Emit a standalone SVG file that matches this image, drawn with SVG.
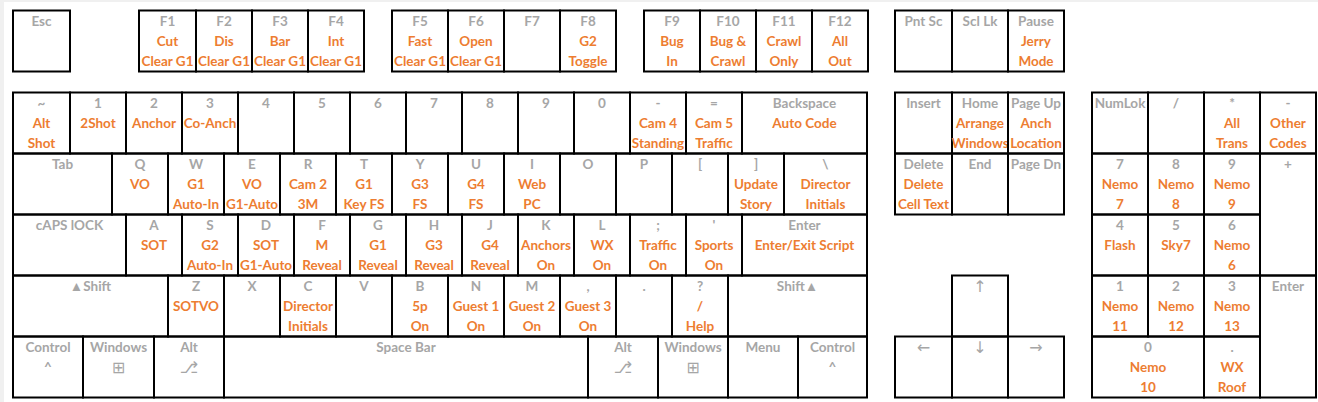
<svg xmlns="http://www.w3.org/2000/svg" width="1318" height="402" viewBox="0 0 1318 402">
<style>
.k{fill:none;stroke:#000;stroke-width:2}
text{font-family:Lato,"Liberation Sans",sans-serif;font-weight:bold;font-size:13.5px;text-anchor:middle}
.g{fill:#A6A6A6}
.o{fill:#ED7D31}
.s{font-family:"DejaVu Sans",sans-serif;font-weight:normal;font-size:16px}
</style>
<rect x="0" y="0" width="1318" height="402" fill="#fff"/>
<rect x="0" y="0" width="1318" height="2" fill="#F0F0F0"/>
<rect x="0" y="0" width="4" height="402" fill="#F0F0F0"/>

<!-- Top row -->
<g id="k-esc"><rect class="k" x="13" y="10.5" width="57" height="61"/><text class="g" x="41.5" y="26">Esc</text></g>
<g id="k-f1"><rect class="k" x="139" y="10.5" width="57" height="61"/><text class="g" x="167.5" y="26">F1</text><text class="o" x="167.5" y="46">Cut</text><text class="o" x="167.5" y="66">Clear G1</text></g>
<g id="k-f2"><rect class="k" x="196" y="10.5" width="56" height="61"/><text class="g" x="224" y="26">F2</text><text class="o" x="224" y="46">Dis</text><text class="o" x="224" y="66">Clear G1</text></g>
<g id="k-f3"><rect class="k" x="252" y="10.5" width="56" height="61"/><text class="g" x="280" y="26">F3</text><text class="o" x="280" y="46">Bar</text><text class="o" x="280" y="66">Clear G1</text></g>
<g id="k-f4"><rect class="k" x="308" y="10.5" width="56" height="61"/><text class="g" x="336" y="26">F4</text><text class="o" x="336" y="46">Int</text><text class="o" x="336" y="66">Clear G1</text></g>
<g id="k-f5"><rect class="k" x="392" y="10.5" width="56" height="61"/><text class="g" x="420" y="26">F5</text><text class="o" x="420" y="46">Fast</text><text class="o" x="420" y="66">Clear G1</text></g>
<g id="k-f6"><rect class="k" x="448" y="10.5" width="56" height="61"/><text class="g" x="476" y="26">F6</text><text class="o" x="476" y="46">Open</text><text class="o" x="476" y="66">Clear G1</text></g>
<g id="k-f7"><rect class="k" x="504" y="10.5" width="56" height="61"/><text class="g" x="532" y="26">F7</text></g>
<g id="k-f8"><rect class="k" x="560" y="10.5" width="56" height="61"/><text class="g" x="588" y="26">F8</text><text class="o" x="588" y="46">G2</text><text class="o" x="588" y="66">Toggle</text></g>
<g id="k-f9"><rect class="k" x="644" y="10.5" width="56" height="61"/><text class="g" x="672" y="26">F9</text><text class="o" x="672" y="46">Bug</text><text class="o" x="672" y="66">In</text></g>
<g id="k-f10"><rect class="k" x="700" y="10.5" width="56" height="61"/><text class="g" x="728" y="26">F10</text><text class="o" x="728" y="46">Bug &amp;</text><text class="o" x="728" y="66">Crawl</text></g>
<g id="k-f11"><rect class="k" x="756" y="10.5" width="56" height="61"/><text class="g" x="784" y="26">F11</text><text class="o" x="784" y="46">Crawl</text><text class="o" x="784" y="66">Only</text></g>
<g id="k-f12"><rect class="k" x="812" y="10.5" width="56" height="61"/><text class="g" x="840" y="26">F12</text><text class="o" x="840" y="46">All</text><text class="o" x="840" y="66">Out</text></g>
<g id="k-pntsc"><rect class="k" x="895" y="10.5" width="57" height="61"/><text class="g" x="923.5" y="26">Pnt Sc</text></g>
<g id="k-scllk"><rect class="k" x="952" y="10.5" width="56" height="61"/><text class="g" x="980" y="26">Scl Lk</text></g>
<g id="k-pause"><rect class="k" x="1008" y="10.5" width="56" height="61"/><text class="g" x="1036" y="26">Pause</text><text class="o" x="1036" y="46">Jerry</text><text class="o" x="1036" y="66">Mode</text></g>

<!-- Number row -->
<g id="k-tilde"><rect class="k" x="13" y="92.5" width="57" height="61"/><text class="g" x="41.5" y="108">~</text><text class="o" x="41.5" y="128">Alt</text><text class="o" x="41.5" y="148">Shot</text></g>
<g id="k-1"><rect class="k" x="70" y="92.5" width="56" height="61"/><text class="g" x="98" y="108">1</text><text class="o" x="98" y="128">2Shot</text></g>
<g id="k-2"><rect class="k" x="126" y="92.5" width="56" height="61"/><text class="g" x="154" y="108">2</text><text class="o" x="154" y="128">Anchor</text></g>
<g id="k-3"><rect class="k" x="182" y="92.5" width="56" height="61"/><text class="g" x="210" y="108">3</text><text class="o" x="210" y="128">Co-Anch</text></g>
<g id="k-4"><rect class="k" x="238" y="92.5" width="56" height="61"/><text class="g" x="266" y="108">4</text></g>
<g id="k-5"><rect class="k" x="294" y="92.5" width="56" height="61"/><text class="g" x="322" y="108">5</text></g>
<g id="k-6"><rect class="k" x="350" y="92.5" width="56" height="61"/><text class="g" x="378" y="108">6</text></g>
<g id="k-7"><rect class="k" x="406" y="92.5" width="56" height="61"/><text class="g" x="434" y="108">7</text></g>
<g id="k-8"><rect class="k" x="462" y="92.5" width="56" height="61"/><text class="g" x="490" y="108">8</text></g>
<g id="k-9"><rect class="k" x="518" y="92.5" width="56" height="61"/><text class="g" x="546" y="108">9</text></g>
<g id="k-0"><rect class="k" x="574" y="92.5" width="56" height="61"/><text class="g" x="602" y="108">0</text></g>
<g id="k-minus"><rect class="k" x="630" y="92.5" width="56" height="61"/><text class="g" x="658" y="108">-</text><text class="o" x="658" y="128">Cam 4</text><text class="o" x="658" y="148">Standing</text></g>
<g id="k-equal"><rect class="k" x="686" y="92.5" width="56" height="61"/><text class="g" x="714" y="108">=</text><text class="o" x="714" y="128">Cam 5</text><text class="o" x="714" y="148">Traffic</text></g>
<g id="k-backspace"><rect class="k" x="742" y="92.5" width="125" height="61"/><text class="g" x="804.5" y="108">Backspace</text><text class="o" x="804.5" y="128">Auto Code</text></g>
<g id="k-insert"><rect class="k" x="895" y="92.5" width="57" height="61"/><text class="g" x="923.5" y="108">Insert</text></g>
<g id="k-home"><rect class="k" x="952" y="92.5" width="56" height="61"/><text class="g" x="980" y="108">Home</text><text class="o" x="980" y="128">Arrange</text><text class="o" x="980" y="148">Windows</text></g>
<g id="k-pgup"><rect class="k" x="1008" y="92.5" width="56" height="61"/><text class="g" x="1036" y="108">Page Up</text><text class="o" x="1036" y="128">Anch</text><text class="o" x="1036" y="148">Location</text></g>
<g id="k-numlock"><rect class="k" x="1092" y="92.5" width="56" height="61"/><text class="g" x="1120" y="108">NumLok</text></g>
<g id="k-npdiv"><rect class="k" x="1148" y="92.5" width="56" height="61"/><text class="g" x="1176" y="108">/</text></g>
<g id="k-npmul"><rect class="k" x="1204" y="92.5" width="56" height="61"/><text class="g" x="1232" y="108">*</text><text class="o" x="1232" y="128">All</text><text class="o" x="1232" y="148">Trans</text></g>
<g id="k-npsub"><rect class="k" x="1260" y="92.5" width="56" height="61"/><text class="g" x="1288" y="108">-</text><text class="o" x="1288" y="128">Other</text><text class="o" x="1288" y="148">Codes</text></g>

<!-- Tab row -->
<g id="k-tab"><rect class="k" x="13" y="153.5" width="99" height="61"/><text class="g" x="62.5" y="169">Tab</text></g>
<g id="k-q"><rect class="k" x="112" y="153.5" width="56" height="61"/><text class="g" x="140" y="169">Q</text><text class="o" x="140" y="189">VO</text></g>
<g id="k-w"><rect class="k" x="168" y="153.5" width="56" height="61"/><text class="g" x="196" y="169">W</text><text class="o" x="196" y="189">G1</text><text class="o" x="196" y="209">Auto-In</text></g>
<g id="k-e"><rect class="k" x="224" y="153.5" width="56" height="61"/><text class="g" x="252" y="169">E</text><text class="o" x="252" y="189">VO</text><text class="o" x="252" y="209">G1-Auto</text></g>
<g id="k-r"><rect class="k" x="280" y="153.5" width="56" height="61"/><text class="g" x="308" y="169">R</text><text class="o" x="308" y="189">Cam 2</text><text class="o" x="308" y="209">3M</text></g>
<g id="k-t"><rect class="k" x="336" y="153.5" width="56" height="61"/><text class="g" x="364" y="169">T</text><text class="o" x="364" y="189">G1</text><text class="o" x="364" y="209">Key FS</text></g>
<g id="k-y"><rect class="k" x="392" y="153.5" width="56" height="61"/><text class="g" x="420" y="169">Y</text><text class="o" x="420" y="189">G3</text><text class="o" x="420" y="209">FS</text></g>
<g id="k-u"><rect class="k" x="448" y="153.5" width="56" height="61"/><text class="g" x="476" y="169">U</text><text class="o" x="476" y="189">G4</text><text class="o" x="476" y="209">FS</text></g>
<g id="k-i"><rect class="k" x="504" y="153.5" width="56" height="61"/><text class="g" x="532" y="169">I</text><text class="o" x="532" y="189">Web</text><text class="o" x="532" y="209">PC</text></g>
<g id="k-o"><rect class="k" x="560" y="153.5" width="56" height="61"/><text class="g" x="588" y="169">O</text></g>
<g id="k-p"><rect class="k" x="616" y="153.5" width="56" height="61"/><text class="g" x="644" y="169">P</text></g>
<g id="k-lbracket"><rect class="k" x="672" y="153.5" width="56" height="61"/><text class="g" x="700" y="169">[</text></g>
<g id="k-rbracket"><rect class="k" x="728" y="153.5" width="56" height="61"/><text class="g" x="756" y="169">]</text><text class="o" x="756" y="189">Update</text><text class="o" x="756" y="209">Story</text></g>
<g id="k-backslash"><rect class="k" x="784" y="153.5" width="83" height="61"/><text class="g" x="825.5" y="169">\</text><text class="o" x="825.5" y="189">Director</text><text class="o" x="825.5" y="209">Initials</text></g>
<g id="k-delete"><rect class="k" x="895" y="153.5" width="57" height="61"/><text class="g" x="923.5" y="169">Delete</text><text class="o" x="923.5" y="189">Delete</text><text class="o" x="923.5" y="209">Cell Text</text></g>
<g id="k-end"><rect class="k" x="952" y="153.5" width="56" height="61"/><text class="g" x="980" y="169">End</text></g>
<g id="k-pgdn"><rect class="k" x="1008" y="153.5" width="56" height="61"/><text class="g" x="1036" y="169">Page Dn</text></g>
<g id="k-np7"><rect class="k" x="1092" y="153.5" width="56" height="61"/><text class="g" x="1120" y="169">7</text><text class="o" x="1120" y="189">Nemo</text><text class="o" x="1120" y="209">7</text></g>
<g id="k-np8"><rect class="k" x="1148" y="153.5" width="56" height="61"/><text class="g" x="1176" y="169">8</text><text class="o" x="1176" y="189">Nemo</text><text class="o" x="1176" y="209">8</text></g>
<g id="k-np9"><rect class="k" x="1204" y="153.5" width="56" height="61"/><text class="g" x="1232" y="169">9</text><text class="o" x="1232" y="189">Nemo</text><text class="o" x="1232" y="209">9</text></g>
<g id="k-npadd"><rect class="k" x="1260" y="153.5" width="56" height="122"/><text class="g" x="1288" y="169">+</text></g>

<!-- Caps row -->
<g id="k-caps"><rect class="k" x="13" y="214.5" width="113" height="61"/><text class="g" x="69.5" y="230">cAPS lOCK</text></g>
<g id="k-a"><rect class="k" x="126" y="214.5" width="56" height="61"/><text class="g" x="154" y="230">A</text><text class="o" x="154" y="250">SOT</text></g>
<g id="k-s"><rect class="k" x="182" y="214.5" width="56" height="61"/><text class="g" x="210" y="230">S</text><text class="o" x="210" y="250">G2</text><text class="o" x="210" y="270">Auto-In</text></g>
<g id="k-d"><rect class="k" x="238" y="214.5" width="56" height="61"/><text class="g" x="266" y="230">D</text><text class="o" x="266" y="250">SOT</text><text class="o" x="266" y="270">G1-Auto</text></g>
<g id="k-f"><rect class="k" x="294" y="214.5" width="56" height="61"/><text class="g" x="322" y="230">F</text><text class="o" x="322" y="250">M</text><text class="o" x="322" y="270">Reveal</text></g>
<g id="k-g"><rect class="k" x="350" y="214.5" width="56" height="61"/><text class="g" x="378" y="230">G</text><text class="o" x="378" y="250">G1</text><text class="o" x="378" y="270">Reveal</text></g>
<g id="k-h"><rect class="k" x="406" y="214.5" width="56" height="61"/><text class="g" x="434" y="230">H</text><text class="o" x="434" y="250">G3</text><text class="o" x="434" y="270">Reveal</text></g>
<g id="k-j"><rect class="k" x="462" y="214.5" width="56" height="61"/><text class="g" x="490" y="230">J</text><text class="o" x="490" y="250">G4</text><text class="o" x="490" y="270">Reveal</text></g>
<g id="k-k"><rect class="k" x="518" y="214.5" width="56" height="61"/><text class="g" x="546" y="230">K</text><text class="o" x="546" y="250">Anchors</text><text class="o" x="546" y="270">On</text></g>
<g id="k-l"><rect class="k" x="574" y="214.5" width="56" height="61"/><text class="g" x="602" y="230">L</text><text class="o" x="602" y="250">WX</text><text class="o" x="602" y="270">On</text></g>
<g id="k-semicolon"><rect class="k" x="630" y="214.5" width="56" height="61"/><text class="g" x="658" y="230">;</text><text class="o" x="658" y="250">Traffic</text><text class="o" x="658" y="270">On</text></g>
<g id="k-quote"><rect class="k" x="686" y="214.5" width="56" height="61"/><text class="g" x="714" y="230">'</text><text class="o" x="714" y="250">Sports</text><text class="o" x="714" y="270">On</text></g>
<g id="k-enter"><rect class="k" x="742" y="214.5" width="125" height="61"/><text class="g" x="804.5" y="230">Enter</text><text class="o" x="804.5" y="250">Enter/Exit Script</text></g>
<g id="k-np4"><rect class="k" x="1092" y="214.5" width="56" height="61"/><text class="g" x="1120" y="230">4</text><text class="o" x="1120" y="250">Flash</text></g>
<g id="k-np5"><rect class="k" x="1148" y="214.5" width="56" height="61"/><text class="g" x="1176" y="230">5</text><text class="o" x="1176" y="250">Sky7</text></g>
<g id="k-np6"><rect class="k" x="1204" y="214.5" width="56" height="61"/><text class="g" x="1232" y="230">6</text><text class="o" x="1232" y="250">Nemo</text><text class="o" x="1232" y="270">6</text></g>

<!-- Shift row -->
<g id="k-lshift"><rect class="k" x="13" y="275.5" width="155" height="61"/><text class="g" x="90.5" y="291">▲Shift</text></g>
<g id="k-z"><rect class="k" x="168" y="275.5" width="56" height="61"/><text class="g" x="196" y="291">Z</text><text class="o" x="196" y="311">SOTVO</text></g>
<g id="k-x"><rect class="k" x="224" y="275.5" width="56" height="61"/><text class="g" x="252" y="291">X</text></g>
<g id="k-c"><rect class="k" x="280" y="275.5" width="56" height="61"/><text class="g" x="308" y="291">C</text><text class="o" x="308" y="311">Director</text><text class="o" x="308" y="331">Initials</text></g>
<g id="k-v"><rect class="k" x="336" y="275.5" width="56" height="61"/><text class="g" x="364" y="291">V</text></g>
<g id="k-b"><rect class="k" x="392" y="275.5" width="56" height="61"/><text class="g" x="420" y="291">B</text><text class="o" x="420" y="311">5p</text><text class="o" x="420" y="331">On</text></g>
<g id="k-n"><rect class="k" x="448" y="275.5" width="56" height="61"/><text class="g" x="476" y="291">N</text><text class="o" x="476" y="311">Guest 1</text><text class="o" x="476" y="331">On</text></g>
<g id="k-m"><rect class="k" x="504" y="275.5" width="56" height="61"/><text class="g" x="532" y="291">M</text><text class="o" x="532" y="311">Guest 2</text><text class="o" x="532" y="331">On</text></g>
<g id="k-comma"><rect class="k" x="560" y="275.5" width="56" height="61"/><text class="g" x="588" y="291">,</text><text class="o" x="588" y="311">Guest 3</text><text class="o" x="588" y="331">On</text></g>
<g id="k-period"><rect class="k" x="616" y="275.5" width="56" height="61"/><text class="g" x="644" y="291">.</text></g>
<g id="k-slash"><rect class="k" x="672" y="275.5" width="56" height="61"/><text class="g" x="700" y="291">?</text><text class="o" x="700" y="311">/</text><text class="o" x="700" y="331">Help</text></g>
<g id="k-rshift"><rect class="k" x="728" y="275.5" width="139" height="61"/><text class="g" x="797.5" y="291">Shift▲</text></g>
<g id="k-up"><rect class="k" x="952" y="275.5" width="56" height="61"/><text class="g s" x="980" y="292">↑</text></g>
<g id="k-np1"><rect class="k" x="1092" y="275.5" width="56" height="61"/><text class="g" x="1120" y="291">1</text><text class="o" x="1120" y="311">Nemo</text><text class="o" x="1120" y="331">11</text></g>
<g id="k-np2"><rect class="k" x="1148" y="275.5" width="56" height="61"/><text class="g" x="1176" y="291">2</text><text class="o" x="1176" y="311">Nemo</text><text class="o" x="1176" y="331">12</text></g>
<g id="k-np3"><rect class="k" x="1204" y="275.5" width="56" height="61"/><text class="g" x="1232" y="291">3</text><text class="o" x="1232" y="311">Nemo</text><text class="o" x="1232" y="331">13</text></g>
<g id="k-npenter"><rect class="k" x="1260" y="275.5" width="56" height="122"/><text class="g" x="1288" y="291">Enter</text></g>

<!-- Bottom row -->
<g id="k-lctrl"><rect class="k" x="13" y="336.5" width="70" height="61"/><text class="g" x="48" y="352">Control</text><text class="g" x="48" y="372">^</text></g>
<g id="k-lwin"><rect class="k" x="83" y="336.5" width="71" height="61"/><text class="g" x="118.5" y="352">Windows</text><text class="g s" x="118.5" y="373">⊞</text></g>
<g id="k-lalt"><rect class="k" x="154" y="336.5" width="70" height="61"/><text class="g" x="189" y="352">Alt</text><text class="g s" x="189" y="373">⎇</text></g>
<g id="k-space"><rect class="k" x="224" y="336.5" width="364" height="61"/><text class="g" x="406" y="352">Space Bar</text></g>
<g id="k-ralt"><rect class="k" x="588" y="336.5" width="70" height="61"/><text class="g" x="623" y="352">Alt</text><text class="g s" x="623" y="373">⎇</text></g>
<g id="k-rwin"><rect class="k" x="658" y="336.5" width="70" height="61"/><text class="g" x="693" y="352">Windows</text><text class="g s" x="693" y="373">⊞</text></g>
<g id="k-menu"><rect class="k" x="728" y="336.5" width="70" height="61"/><text class="g" x="763" y="352">Menu</text></g>
<g id="k-rctrl"><rect class="k" x="798" y="336.5" width="69" height="61"/><text class="g" x="832.5" y="352">Control</text><text class="g" x="832.5" y="372">^</text></g>
<g id="k-left"><rect class="k" x="895" y="336.5" width="57" height="61"/><text class="g s" x="923.5" y="353">←</text></g>
<g id="k-down"><rect class="k" x="952" y="336.5" width="56" height="61"/><text class="g s" x="980" y="353">↓</text></g>
<g id="k-right"><rect class="k" x="1008" y="336.5" width="56" height="61"/><text class="g s" x="1036" y="353">→</text></g>
<g id="k-np0"><rect class="k" x="1092" y="336.5" width="112" height="61"/><text class="g" x="1148" y="352">0</text><text class="o" x="1148" y="372">Nemo</text><text class="o" x="1148" y="392">10</text></g>
<g id="k-npdot"><rect class="k" x="1204" y="336.5" width="56" height="61"/><text class="g" x="1232" y="352">.</text><text class="o" x="1232" y="372">WX</text><text class="o" x="1232" y="392">Roof</text></g>
<g id="connectors"></g>
</svg>
